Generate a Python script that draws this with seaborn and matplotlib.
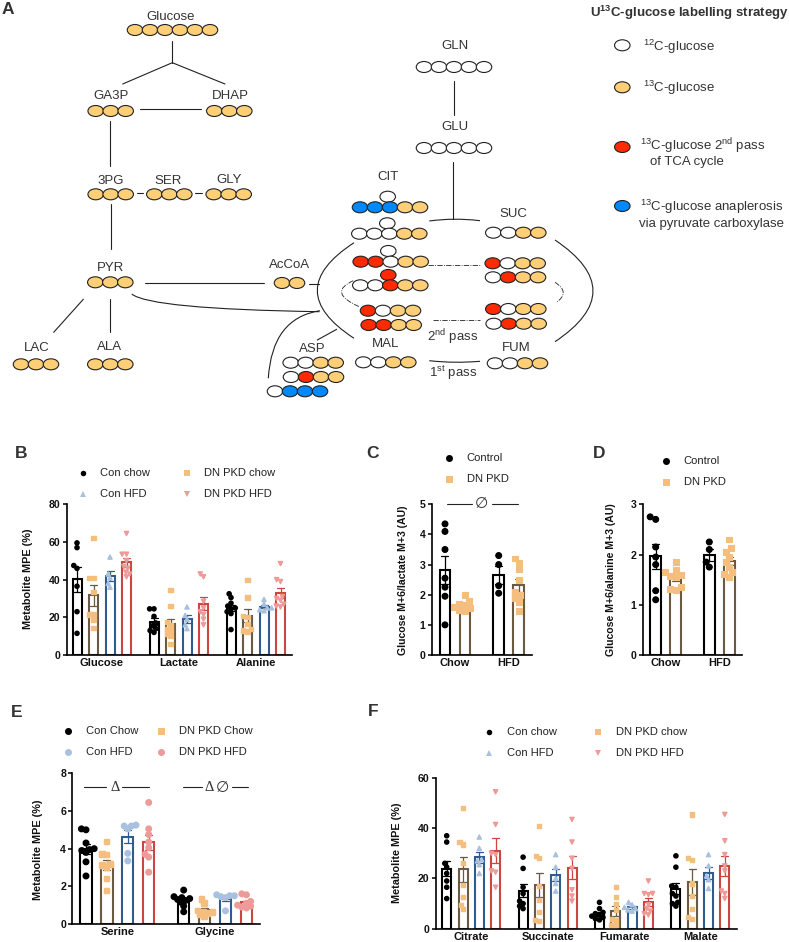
import matplotlib
matplotlib.use('Agg')
import matplotlib.pyplot as plt
from matplotlib.patches import Ellipse, PathPatch
from matplotlib.path import Path
import matplotlib.patheffects as pe
import pandas as pd
import seaborn as sns

sns.set_theme(style="white")
plt.rcParams['font.family'] = ['Liberation Sans', 'DejaVu Sans']
plt.rcParams['mathtext.default'] = 'regular'

W, H = 789, 942

# --- data: one list per x group, inside it one list per series ---
four_series = ['Con chow', 'DN PKD chow', 'Con HFD', 'DN PKD HFD']
two_series = ['Control', 'DN PKD']

b_labels = ['Glucose', 'Lactate', 'Alanine']
b_glucose = [[59.5, 57, 47.5, 46, 36.5, 23, 11.5],
             [62, 41, 41, 33.5, 21.5, 21.5, 18.5, 14.5],
             [52, 43, 41, 38, 36],
             [64.5, 53.5, 53.5, 50, 47, 46, 44, 43, 41.5]]
b_lactate = [[24.5, 24.5, 20.5, 17, 15.5, 14, 13, 12],
             [34.5, 26, 17.5, 16, 14, 13, 11, 10, 6],
             [25.5, 21, 19, 16, 14],
             [43, 41.5, 28.5, 25, 23, 21.5, 19, 16]]
b_alanine = [[32.5, 30.5, 27.5, 26, 25, 24.5, 23, 22, 13.5],
             [40, 30.5, 20.5, 20, 16.5, 14, 13, 12.5],
             [29.5, 27, 25, 25, 24, 23.5],
             [48.5, 40, 39, 31, 30, 29, 27, 26, 25.5]]

c_labels = ['Chow', 'HFD']
c_chow = [[4.35, 4.1, 3.5, 2.55, 2.25, 1.95, 1.0],
          [2.0, 1.8, 1.7, 1.65, 1.6, 1.55, 1.5, 1.45]]
c_hfd = [[3.3, 3.0, 2.3, 2.05],
         [3.2, 3.05, 2.85, 2.5, 2.1, 2.0, 1.9, 1.75, 1.45]]

d_labels = ['Chow', 'HFD']
d_chow = [[2.75, 2.7, 2.15, 1.95, 1.8, 1.28, 1.1],
          [1.85, 1.7, 1.65, 1.6, 1.58, 1.55, 1.35, 1.32, 1.3]]
d_hfd = [[2.25, 2.1, 1.85, 1.75],
         [2.3, 2.13, 2.05, 1.95, 1.85, 1.75, 1.65, 1.62, 1.55]]

e_labels = ['Serine', 'Glycine']
e_serine = [[5.05, 5.0, 4.3, 4.0, 3.95, 3.9, 3.8, 3.3, 2.55],
            [4.35, 3.7, 3.65, 3.15, 3.1, 3.0, 2.4, 1.75],
            [5.25, 5.2, 5.2, 5.05, 3.75, 3.35],
            [6.45, 5.05, 4.75, 4.35, 4.05, 3.7, 3.55, 2.75]]
e_glycine = [[1.8, 1.45, 1.4, 1.35, 1.3, 1.25, 1.15, 0.95, 0.65],
             [1.3, 1.1, 0.7, 0.65, 0.6, 0.55, 0.5, 0.4],
             [1.55, 1.5, 1.5, 1.45, 1.4, 0.7],
             [1.6, 1.55, 1.2, 1.1, 1.0, 0.95, 0.9, 0.85]]

f_labels = ['Citrate', 'Succinate', 'Fumarate', 'Malate']
f_citrate = [[37, 34.5, 26, 24.5, 22, 19, 16.5, 12],
             [48, 34.5, 33.5, 26, 17.5, 12.5, 9.5, 8],
             [36.5, 32, 27.5, 27, 25.5, 22],
             [54.5, 41.5, 30, 29.5, 23, 22.5, 16.5]]
f_succinate = [[28.5, 24, 16.5, 14, 11, 10, 9, 8],
               [41, 29, 28, 17, 11.5, 6.5, 3.5, 3],
               [29.5, 24.5, 20, 18, 15],
               [43.5, 34.5, 28, 24, 15.5, 13, 11]]
f_fumarate = [[10.5, 8, 6.5, 6, 5.5, 5, 4.5, 4, 3.5],
              [16.5, 12.5, 10, 7.5, 4, 3.5, 1.5, 1.5],
              [10.5, 9.5, 8.5, 8, 7.5, 7],
              [19, 14, 14, 13.5, 9.5, 8, 7, 6, 5.5]]
f_malate = [[29, 24.5, 17, 16.5, 14, 13, 10.5, 10, 9],
            [45.5, 28, 27.5, 18, 13, 8, 4.5, 4],
            [29.5, 25, 21, 19.5, 16],
            [45.5, 35, 29.5, 25, 23, 15, 14, 12]]

# styles
edge_cols = ['black', '#6B5A42', '#2F5C8F', '#C9473F']
dot_cols = ['black', '#F4BE7E', '#A9C0DF', '#EE9A98']
tri_markers = ['o', 's', '^', 'v']
cell = {'O': 'white', 'G': '#FFCF77', 'R': '#FF2A00', 'B': '#0088FF'}
ink = '#333333'

fig = plt.figure(figsize=(W / 100, H / 100), dpi=100)

# overlay in pixel coords for the pathway scheme and the hand placed labels
ov = fig.add_axes([0, 0, 1, 1])
ov.set_xlim(0, W)
ov.set_ylim(H, 0)
ov.axis('off')


def chain(x0, y, pattern, step=15):
    for i, c in enumerate(pattern):
        ov.add_patch(Ellipse((x0 + i * step, y), 15.5, 11, fc=cell[c], ec='#222222', lw=0.8))


def seg(*pts, lw=0.8, ls='-'):
    ov.plot([p[0] for p in pts], [p[1] for p in pts], color='#222222', lw=lw, ls=ls)


def curve(a, ctrl, b, lw=0.8, ls='-'):
    path = Path([a, ctrl, b], [Path.MOVETO, Path.CURVE3, Path.CURVE3])
    ov.add_patch(PathPatch(path, fc='none', ec='#222222', lw=lw, ls=ls))


def label(x, y, s, size=9.5, ha='center', **kw):
    ov.text(x, y, s, fontsize=size, ha=ha, va='center', color=kw.pop('color', ink), **kw)


# --- panel A ---
chain(135, 30, 'GGGGGG')
for x, y, p in [(95.7, 111, 'GGG'), (214.3, 111, 'GGG'), (95.7, 194.3, 'GGG'), (154.3, 194.3, 'GGG'),
                (213.7, 194.3, 'GGG'), (95.3, 282.3, 'GGG'), (21, 364.3, 'GGG'), (95.3, 364.3, 'GGG'),
                (282, 283, 'GG'), (424, 67, 'OOOOO'), (424, 148, 'OOOOO'),
                (387.7, 196.7, 'O'), (360, 207.3, 'BBBGG'), (387.3, 223.3, 'O'), (359.3, 233.7, 'OOOGG'),
                (388.3, 251, 'O'), (360.7, 261.7, 'RROGG'), (388.3, 275, 'R'), (360.3, 285.3, 'OORGG'),
                (368, 310.7, 'ROGG'), (368.7, 325, 'RRGG'), (363.3, 362.3, 'OOGG'),
                (493.3, 232.7, 'OOGG'), (492.7, 263.3, 'ROGG'), (493, 277.3, 'ORGG'),
                (493.3, 309, 'ROGG'), (493.7, 323.7, 'ORGG'), (495, 363.3, 'OOGG'),
                (290.7, 362.7, 'OOGG'), (291, 377, 'ORGG'), (275, 391.3, 'OBBB')]:
    chain(x, y, p)

for x, y, s in [(171, 17, 'Glucose'), (111, 95.7, 'GA3P'), (230.3, 95.7, 'DHAP'), (110.3, 181, '3PG'),
                (168.3, 181, 'SER'), (229, 179.7, 'GLY'), (110.7, 268, 'PYR'), (36.7, 348.3, 'LAC'),
                (110, 347, 'ALA'), (290, 265.3, 'AcCoA'), (387.7, 176.7, 'CIT'), (513.3, 214.3, 'SUC'),
                (386, 344.3, 'MAL'), (516.3, 348, 'FUM'), (312.7, 349.3, 'ASP'), (455, 46, 'GLN'),
                (455, 127, 'GLU'), (452.3, 336.7, r'2$^{nd}$ pass'), (453.3, 372.7, r'1$^{st}$ pass')]:
    label(x, y, s)

seg((172.3, 40.7), (172.3, 62.7))
seg((122.7, 84), (172.3, 62.7), (225, 84))
seg((140, 109), (201, 109))
seg((110.3, 120.7), (110.3, 166))
seg((136.7, 192.7), (142.7, 192.7))
seg((195.3, 192.7), (201.7, 192.7))
seg((111, 204), (111, 249.3))
seg((145, 283.3), (264, 283.3))
seg((83.3, 299.3), (53.7, 332.3))
seg((110.3, 299.3), (110.3, 332.3))
seg((309.3, 283.7), (319.3, 283.7))
seg((317.3, 340), (336.7, 329.3))
seg((454, 81), (454, 115))
seg((453.3, 161.7), (453.3, 219.3))
curve((131.7, 294), (150, 309), (319.3, 311.7))
curve((268.3, 378.3), (272, 318), (320, 310.7))
curve((354, 242.7), (280.6, 290.5), (354, 338.3))
curve((555, 240), (631, 291), (555, 341.7))
curve((429.3, 221), (454.5, 217.5), (480, 220.7))
curve((429.3, 360.7), (454.5, 363.5), (480, 361.3))
seg((428.3, 265), (480, 265), lw=0.6, ls='-.')
seg((433.3, 319.7), (480, 319.7), lw=0.6, ls='-.')
curve((353.3, 280.7), (327, 292.5), (359.3, 306.7), lw=0.6, ls='-.')
curve((555, 282.3), (571, 292.5), (556, 302.7), lw=0.6, ls='-.')

# scheme key
label(590, 13, r'U$^{13}$C-glucose labelling strategy', size=9.5, ha='left', fontweight='bold')
for y, c in [(45.3, 'O'), (87.3, 'G'), (147, 'R'), (206, 'B')]:
    ov.add_patch(Ellipse((622.3, y), 15.5, 11, fc=cell[c], ec='#222222', lw=0.8))
label(642.7, 47, r'$^{12}$C-glucose', ha='left')
label(642.7, 88, r'$^{13}$C-glucose', ha='left')
label(640, 146, r'$^{13}$C-glucose 2$^{nd}$ pass', ha='left')
label(650, 162, 'of TCA cycle', ha='left')
label(640, 207, r'$^{13}$C-glucose anaplerosis', ha='left')
label(639, 224, 'via pyruvate carboxylase', ha='left')

for x, y, s in [(8, 9.7, 'A'), (20.7, 453.3, 'B'), (373, 453.3, 'C'), (599, 453.3, 'D'),
                (17, 712.7, 'E'), (373, 712, 'F')]:
    label(x, y, s, size=12.5, fontweight='bold')


def bar_panel(box, ymax, yticks, groups, labels, series, ylabel, ylabel_xy, first, step, group_step, bar_w,
              colors=None, markers=None, size=4.0, spread=3.0, ylabel_size=7.8):
    # x axis of each panel runs in figure pixels so the bars land where they do in the paper
    left, top, right, bottom = box
    ax = fig.add_axes([left / W, 1 - bottom / H, (right - left) / W, (bottom - top) / H])
    ax.patch.set_alpha(0)
    colors = colors or edge_cols
    rows = []
    for g, vals in enumerate(groups):
        for s, ys in enumerate(vals):
            for v in ys:
                rows.append({'pos': first + g * group_step + s * step, 'series': series[s], 'value': v})
    df = pd.DataFrame(rows)

    for s, name in enumerate(series):
        sub = df[df['series'] == name]
        sns.barplot(data=sub, x='pos', y='value', native_scale=True, errorbar='se', fill=False,
                    color=colors[s], linewidth=1.5, width=bar_w / group_step, capsize=7 / group_step,
                    err_kws={'color': colors[s], 'linewidth': 0.9}, ax=ax)
    ax.set_xlim(left, right)
    ax.set_ylim(0, ymax)
    for s, name in enumerate(series):
        sub = df[df['series'] == name]
        # swarm at a small size so points overlap as in the paper, then grow them with a stroke
        n_before = len(ax.collections)
        sns.swarmplot(data=sub, x='pos', y='value', native_scale=True, color=dot_cols[s],
                      marker=(markers or tri_markers)[s], size=spread, linewidth=0, warn_thresh=1, ax=ax)
        for coll in ax.collections[n_before:]:
            coll.set_path_effects([pe.Stroke(linewidth=size - spread, foreground=dot_cols[s]), pe.Normal()])
    ax.set_xlim(left, right)
    ax.set_ylim(0, ymax)

    ax.set_yticks(yticks)
    ax.set_xticks([first + g * group_step + (len(series) - 1) * step / 2 for g in range(len(labels))])
    ax.set_xticklabels(labels, fontsize=8, fontweight='bold', color='#111111')
    ax.set_yticklabels([str(t) for t in yticks], fontsize=7.6, fontweight='bold', color='#111111')
    ax.tick_params(axis='y', length=3, width=1.1, color='black', pad=1.5, left=True)
    ax.tick_params(axis='x', length=0, pad=2.5)
    ax.set_xlabel('')
    ax.set_ylabel(ylabel, fontsize=ylabel_size, fontweight='bold', color='#111111')
    ax.yaxis.set_label_coords(ylabel_xy[0], ylabel_xy[1], transform=ov.transData)
    sns.despine(ax=ax)
    for sp in ['left', 'bottom']:
        ax.spines[sp].set_linewidth(1.2)
        ax.spines[sp].set_color('black')
    return ax


def key(x, y, name, color, marker, text_x, ms=5.5):
    ov.plot([x], [y], marker=marker, color=color, ms=ms * 0.72, mew=0, ls='none')
    label(text_x, y, name, size=8, ha='left', color='#222222')


def sig_line(segments, y):
    for a, b in segments:
        seg((a, y), (b, y), lw=0.8)


# --- panel B ---
bar_panel((66.7, 504.3, 292, 655), 80, [0, 20, 40, 60, 80], [b_glucose, b_lactate, b_alanine], b_labels,
          four_series, 'Metabolite MPE (%)', (32.7, 579), 77, 16.5, 77, 9)
key(82.7, 472.7, 'Con chow', dot_cols[0], 'o', 100)
key(82.7, 494, 'Con HFD', dot_cols[2], '^', 100)
key(187, 472.7, 'DN PKD chow', dot_cols[1], 's', 204.3)
key(187, 494, 'DN PKD HFD', dot_cols[3], 'v', 204.3)

# --- panel C ---
bar_panel((431.7, 504.3, 532, 655), 5, [0, 1, 2, 3, 4, 5], [c_chow, c_hfd], c_labels, two_series,
          'Glucose M+6/lactate M+3 (AU)', (407.7, 580), 445, 20, 53.7, 10.7,
          colors=['black', '#6B5A42'], size=5, spread=4.2, ylabel_size=7.6)
key(449.3, 458.3, 'Control', 'black', 'o', 466.7, ms=7)
key(449.3, 479.3, 'DN PKD', dot_cols[1], 's', 466.7, ms=7)
sig_line([(447.3, 471.7), (491.7, 517.7)], 504)
label(481.7, 504, '\u2205', size=11, family=['DejaVu Sans'])

# --- panel D ---
bar_panel((642.7, 504.3, 742, 655), 3, [0, 1, 2, 3], [d_chow, d_hfd], d_labels, two_series,
          'Glucose M+6/alanine M+3 (AU)', (616, 580), 655.7, 20, 53.6, 10.7,
          colors=['black', '#6B5A42'], size=5, spread=4.2, ylabel_size=7.6)
key(666, 460.7, 'Control', 'black', 'o', 683.7, ms=7)
key(666, 481.7, 'DN PKD', dot_cols[1], 's', 683.7, ms=7)

# --- panel E ---
circles = ['o', 's', 'o', 'o']
bar_panel((72.3, 773.3, 260, 924), 8, [0, 2, 4, 6, 8], [e_serine, e_glycine], e_labels, four_series,
          'Metabolite MPE (%)', (43.3, 850), 86, 20.9, 97.7, 11.3, markers=circles, size=5, spread=3.2)
key(68.3, 730.7, 'Con Chow', dot_cols[0], 'o', 86, ms=7)
key(68.3, 751.7, 'Con HFD', dot_cols[2], 'o', 86, ms=7)
key(161.3, 730.7, 'DN PKD Chow', dot_cols[1], 's', 179, ms=7)
key(161.3, 751.7, 'DN PKD HFD', dot_cols[3], 'o', 179, ms=7)
sig_line([(84.3, 106), (122.3, 148.7), (183, 201.7), (232.3, 247.7)], 787.3)
label(114.7, 787.3, '\u0394', size=10.5, family=['Liberation Serif'])
label(209, 787.3, '\u0394', size=10.5, family=['Liberation Serif'])
label(222.7, 787.3, '\u2205', size=11, family=['DejaVu Sans'])

# --- panel F ---
bar_panel((435.7, 778, 736.7, 928.7), 60, [0, 20, 40, 60], [f_citrate, f_succinate, f_fumarate, f_malate],
          f_labels, four_series, 'Metabolite MPE (%)', (402.3, 853), 446.7, 16.3, 76.4, 9)
key(489.3, 732, 'Con chow', dot_cols[0], 'o', 506.7)
key(489.3, 753, 'Con HFD', dot_cols[2], '^', 506.7)
key(598.3, 732, 'DN PKD chow', dot_cols[1], 's', 615.7)
key(598.3, 753, 'DN PKD HFD', dot_cols[3], 'v', 615.7)

fig.savefig('out.png', dpi=100)
